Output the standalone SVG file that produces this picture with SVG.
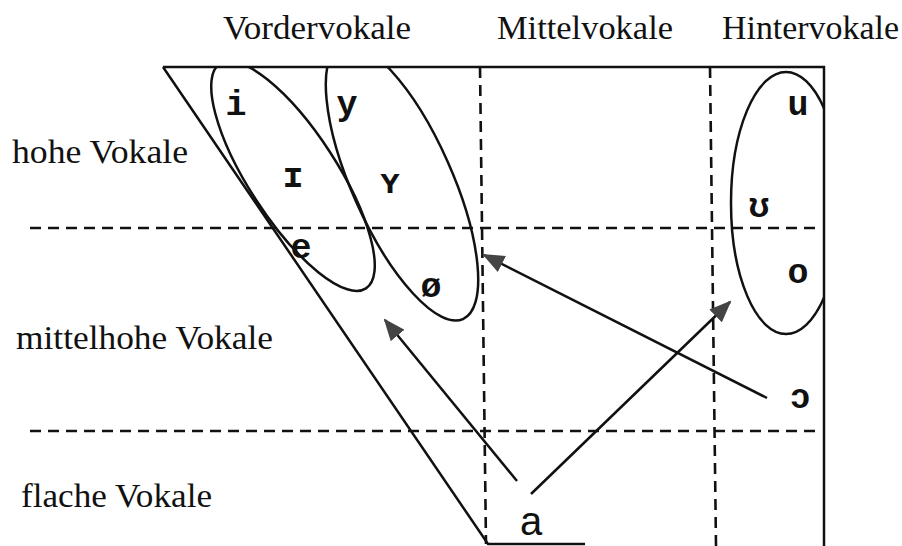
<svg xmlns="http://www.w3.org/2000/svg" width="902" height="546" viewBox="0 0 902 546">
<style>
.lbl{font-family:"Liberation Serif","Times New Roman",serif;font-size:33px;fill:#111}
.ph{font-family:"Liberation Mono","Courier New",monospace;font-weight:bold;font-size:35px;fill:#111}
.solid{fill:none;stroke:#111;stroke-width:2.5}
.dash{fill:none;stroke:#111;stroke-width:2.6;stroke-dasharray:11 7}
.ell{fill:none;stroke:#111;stroke-width:2.5}
.arr{fill:none;stroke:#111;stroke-width:2.5;marker-end:url(#ah)}
</style>
<defs>
<marker id="ah" viewBox="0 0 22 18" refX="20" refY="9" markerWidth="22" markerHeight="18" orient="auto" markerUnits="userSpaceOnUse">
<path d="M0,0 L22,9 L0,18 z" fill="#444"/>
</marker>
<clipPath id="clip"><rect x="0" y="67" width="824" height="479"/></clipPath>
</defs>
<rect width="902" height="546" fill="#fff"/>
<g id="headers">
<text class="lbl" x="223" y="39" textLength="188" lengthAdjust="spacingAndGlyphs">Vordervokale</text>
<text class="lbl" x="497" y="39" textLength="176" lengthAdjust="spacingAndGlyphs">Mittelvokale</text>
<text class="lbl" x="722" y="39" textLength="177" lengthAdjust="spacingAndGlyphs">Hintervokale</text>
</g>
<g id="rows">
<text class="lbl" x="12" y="163" textLength="176" lengthAdjust="spacingAndGlyphs">hohe Vokale</text>
<text class="lbl" x="16" y="349" textLength="257" lengthAdjust="spacingAndGlyphs">mittelhohe Vokale</text>
<text class="lbl" x="21" y="507" textLength="191" lengthAdjust="spacingAndGlyphs">flache Vokale</text>
</g>
<g id="frame">
<path class="solid" d="M163,67 L825,67 M824,66 L824,546 M163,67 L488,544 L585,544"/>
<path class="dash" d="M30,228 L822,228 M30,431 L822,431 M480,67 L486,544 M710,67 L716,546"/>
</g>
<g id="ellipse-front-unrounded" clip-path="url(#clip)">
<ellipse class="ell" cx="293" cy="176" rx="134" ry="44" transform="rotate(57 293 176)"/>
</g>
<g id="ellipse-front-rounded" clip-path="url(#clip)">
<ellipse class="ell" cx="402" cy="182" rx="150" ry="50" transform="rotate(66 402 182)"/>
</g>
<g id="ellipse-back" clip-path="url(#clip)">
<ellipse class="ell" cx="786" cy="203" rx="55" ry="131"/>
</g>
<g id="vowels">
<text class="ph" x="236" y="115" text-anchor="middle">i</text>
<text class="ph" x="347" y="115" text-anchor="middle">y</text>
<text class="ph" x="293" y="187" text-anchor="middle">ɪ</text>
<text class="ph" x="390" y="193" text-anchor="middle">ʏ</text>
<text class="ph" x="301" y="258" text-anchor="middle">e</text>
<text class="ph" x="431" y="297" text-anchor="middle">ø</text>
<text class="ph" x="798" y="115" text-anchor="middle">u</text>
<text class="ph" x="759" y="217" text-anchor="middle">ʊ</text>
<text class="ph" x="798" y="283" text-anchor="middle">o</text>
<text class="ph" x="800" y="408" text-anchor="middle">ɔ</text>
<text x="531" y="535" text-anchor="middle" style="font-family:'Liberation Sans',Arial,sans-serif;font-size:40px;fill:#111">a</text>
</g>
<g id="connectors">
<path class="arr" d="M517,481 L385,320"/>
<path class="arr" d="M531,494 L730,302"/>
<path class="arr" d="M767,398 L484,255"/>
</g>
</svg>
